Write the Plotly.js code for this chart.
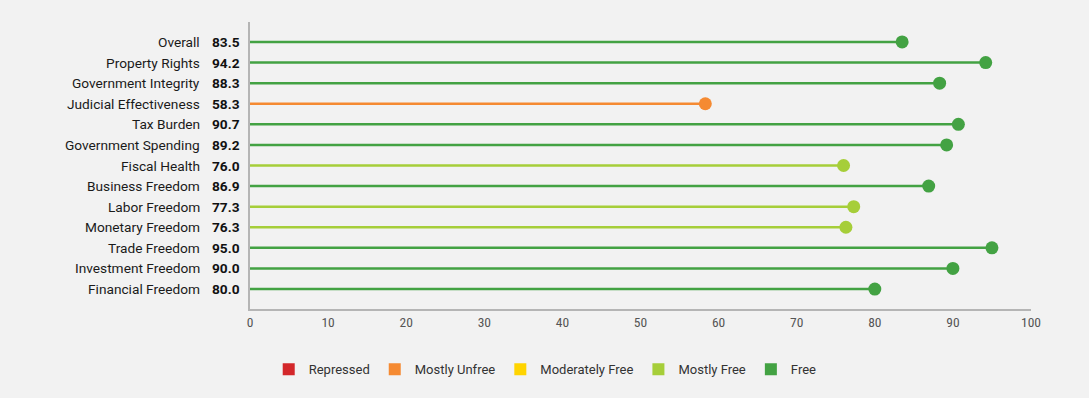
<!DOCTYPE html>
<html><head><meta charset="utf-8">
<script src="https://cdn.plot.ly/plotly-3.0.1.min.js"></script>
<style>html,body{margin:0;padding:0;background:#f2f2f2;}</style>
</head><body>
<div id="chart" style="width:1089px;height:398px;"></div>
<script>
const categories = ["Overall","Property Rights","Government Integrity","Judicial Effectiveness","Tax Burden","Government Spending","Fiscal Health","Business Freedom","Labor Freedom","Monetary Freedom","Trade Freedom","Investment Freedom","Financial Freedom"];
const scores = [83.5,94.2,88.3,58.3,90.7,89.2,76.0,86.9,77.3,76.3,95.0,90.0,80.0];
const bandNames = ["Repressed","Mostly Unfree","Moderately Free","Mostly Free","Free"];
const bandColors = ["#d3272a","#f58a32","#ffd400","#a6ce39","#43a243"];
const xTicks = [0,10,20,30,40,50,60,70,80,90,100];

function band(v){ if(v>=80) return 4; if(v>=70) return 3; if(v>=60) return 2; if(v>=50) return 1; return 0; }

const traces = [];
categories.forEach((c,i)=>{
  const col = bandColors[band(scores[i])];
  traces.push({type:'scatter',mode:'lines',x:[0,scores[i]],y:[i,i],line:{color:col,width:2.5},showlegend:false,hoverinfo:'skip'});
  traces.push({type:'scatter',mode:'markers',x:[scores[i]],y:[i],marker:{color:col,size:13},showlegend:false});
});
bandNames.forEach((n,k)=>{
  traces.push({type:'scatter',mode:'markers',x:[null],y:[null],name:n,marker:{symbol:'square',color:bandColors[k],size:12},showlegend:true});
});

const annotations = [];
categories.forEach((c,i)=>{
  annotations.push({xref:'paper',yref:'y',x:0,y:i,xanchor:'right',yanchor:'middle',xshift:-48,text:c,showarrow:false,font:{family:'Roboto, sans-serif',size:13.7,color:'#1a1a1a'}});
  annotations.push({xref:'paper',yref:'y',x:0,y:i,xanchor:'right',yanchor:'middle',xshift:-8,text:'<b>'+scores[i].toFixed(1)+'</b>',showarrow:false,font:{family:'Roboto, sans-serif',size:13.7,color:'#111'}});
});

const layout = {
  width:1089,height:398,
  paper_bgcolor:'#f2f2f2',plot_bgcolor:'#f2f2f2',
  margin:{l:250,r:58,t:22,b:89},
  xaxis:{range:[0,100],tickvals:xTicks,showgrid:false,zeroline:false,showline:true,linecolor:'#b5b5b5',linewidth:2,ticks:'',ticklen:0,tickfont:{family:'Liberation Sans Narrow, Roboto Condensed, Roboto, sans-serif',size:13.5,color:'#555'},fixedrange:true},
  yaxis:{range:[12.97,-0.97],showticklabels:false,showgrid:false,zeroline:false,showline:true,linecolor:'#b5b5b5',linewidth:2,ticks:'',fixedrange:true},
  showlegend:true,
  legend:{orientation:'h',x:0.378,xanchor:'center',y:-0.21,yanchor:'middle',itemwidth:30,font:{family:'Roboto, sans-serif',size:13,color:'#333'},bgcolor:'rgba(0,0,0,0)'},
  annotations:annotations
};
Plotly.newPlot('chart',traces,layout,{displayModeBar:false,staticPlot:true});
</script>
</body></html>
